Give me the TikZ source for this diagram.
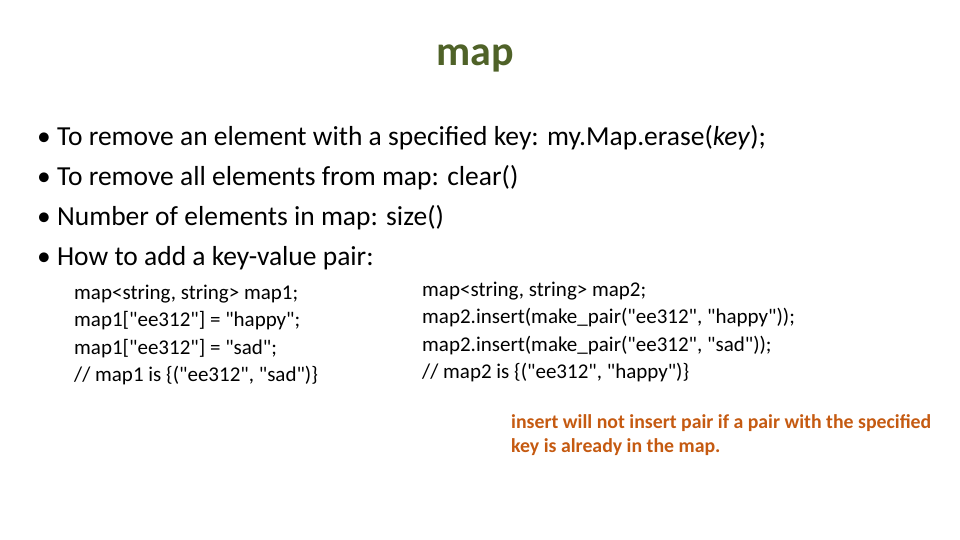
\documentclass[tikz,border=0pt]{standalone}
\usepackage{fontspec}
\setmainfont{Carlito}[Ligatures=TeXOff]
\usetikzlibrary{positioning}
\definecolor{titlegreen}{RGB}{79,98,40}
\definecolor{noteorange}{RGB}{197,90,17}
\tikzstyle{bullet}=[anchor=west,inner sep=0pt,font=\fontsize{27.5}{30}\selectfont]
\tikzstyle{code}=[anchor=north west,inner sep=0pt,align=left,
                  font=\fontsize{21}{27.3}\selectfont]
\tikzstyle{note}=[anchor=north west,inner sep=0pt,align=left,text=noteorange,
                  font=\bfseries\fontsize{19.8}{24}\selectfont]
\begin{document}
\begin{tikzpicture}[x=1pt,y=-1pt]
  \useasboundingbox (0,0) rectangle (960,540);

	\node[font=\bfseries\fontsize{42}{44}\selectfont,text=titlegreen] (title) at (475,58) {map};

	\node[bullet] (b1) at (37,138) {• To remove an element with a specified key: my.Map.erase(\textit{key});};
	\node[bullet] (b2) at (37,178) {• To remove all elements from map: clear()};
	\node[bullet] (b3) at (37,218) {• Number of elements in map: size()};
	\node[bullet] (b4) at (37,258) {• How to add a key-value pair:};

	\node[code] (left) at (74,285) {map<string, string> map1;\\
map1["ee312"] = "happy";\\
map1["ee312"] = "sad";\\
// map1 is \{("ee312", "sad")\}};
	\node[code] (right) at (422,282) {map<string, string> map2;\\
map2.insert(make\_pair("ee312", "happy"));\\
map2.insert(make\_pair("ee312", "sad"));\\
// map2 is \{("ee312", "happy")\}};

	\node[note] (remark) at (511,414) {insert will not insert pair if a pair with the specified\\
key is already in the map.};

\end{tikzpicture}
\end{document}
